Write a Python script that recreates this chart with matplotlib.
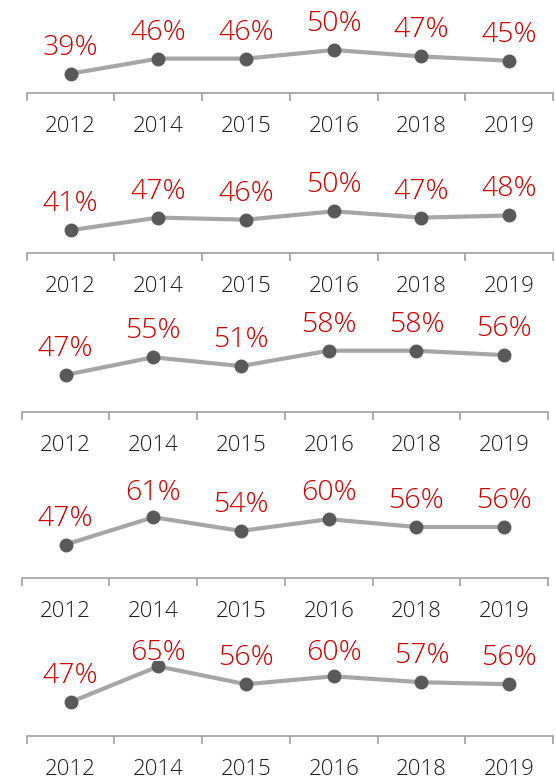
import matplotlib
matplotlib.use("Agg")
import matplotlib.pyplot as plt

years = ['2012', '2014', '2015', '2016', '2018', '2019']
panel1 = [39, 46, 46, 50, 47, 45]
panel2 = [41, 47, 46, 50, 47, 48]
panel3 = [47, 55, 51, 58, 58, 56]
panel4 = [47, 61, 54, 60, 56, 56]
panel5 = [47, 65, 56, 60, 57, 56]
series = [panel1, panel2, panel3, panel4, panel5]

plt.rcParams['font.family'] = ['Open Sans', 'DejaVu Sans']

W, H = 556, 779
DPI = 100
fig = plt.figure(figsize=(W / DPI, H / DPI), dpi=DPI)

# layout (pixels)
axis_y = [93, 253.3, 412.3, 577.7, 735.7]
lefts = [26.7, 26.7, 21.7, 21.7, 26.7]
width = 526.3
scales = [2.15, 2.1, 2.2, 1.95, 1.98]   # px per percent
caps = [None, None, None, 493, 653]    # top limit of label centre (px from top)
ybase = 30
ax_h = 75
label_off = 26

LINE = '#A6A6A6'
MARK = '#595959'
RED = '#CC0000'
AXC = '#A0A0A0'

for vals, ay, lx, s, cap in zip(series, axis_y, lefts, scales, caps):
    ax = fig.add_axes([lx / W, (H - ay) / H, width / W, ax_h / H])
    x = list(range(len(years)))
    ax.plot(x, vals, color=LINE, lw=3, zorder=2, solid_capstyle='round')
    ax.plot(x, vals, 'o', color=MARK, ms=9, zorder=3)
    ax.set_xlim(-0.5, len(years) - 0.5)
    ax.set_ylim(ybase, ybase + ax_h / s)
    for xi, v in zip(x, vals):
        py = ay - (v - ybase) * s - label_off
        if cap is not None:
            py = max(py, cap)
        ty = ybase + (ay - py) / s
        ax.text(xi, ty, f'{v}%', color=RED, fontsize=20.5, fontweight=300,
                ha='center', va='center', clip_on=False, zorder=4)
    for sp in ['top', 'left', 'right']:
        ax.spines[sp].set_visible(False)
    ax.spines['bottom'].set_color(AXC)
    ax.spines['bottom'].set_linewidth(1.2)
    ax.set_yticks([])
    ax.set_xticks(x)
    ax.set_xticklabels(years, fontsize=16, color='#1a1a1a', fontweight=300)
    ax.tick_params(axis='x', which='major', length=0, pad=16.5)
    ax.set_xticks([i - 0.5 for i in range(len(years) + 1)], minor=True)
    ax.tick_params(axis='x', which='minor', length=5.5, width=1.2, color=AXC)
    ax.patch.set_alpha(0)

fig.savefig('out.png', dpi=DPI)
